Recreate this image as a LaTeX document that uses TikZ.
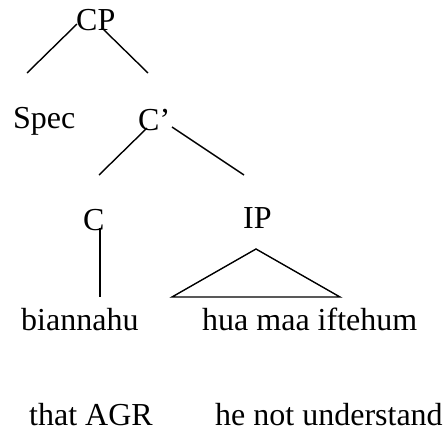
\documentclass[tikz,border=0pt]{standalone}
\usepackage{fontspec}
\setmainfont{Liberation Serif}
\usetikzlibrary{calc}
\begin{document}
\begin{tikzpicture}[x=1pt,y=-1pt,
  lbl/.style={anchor=base west,inner sep=0pt,font=\fontsize{32}{38}\selectfont},
  branch/.style={line width=1.4pt,line cap=butt}]
\useasboundingbox (0,0) rectangle (444,437);
% tree labels
\node[lbl] (CP)   at (76,30)   {CP};
\node[lbl] (Spec) at (13,128)  {Spec};
\node[lbl] (Cbar) at (138,130) {C’};
\node[lbl] (C)    at (83,230)  {C};
\node[lbl] (IP)   at (243,228) {IP};
\node[lbl] (bia)  at (21,330)  {biannahu};
\node[lbl] (hua)  at (202,330) {hua maa iftehum};
% gloss line
\node[lbl] (gl1)  at (29,425)  {that AGR};
\node[lbl] (gl2)  at (215,425) {he not understand};
% branches
\draw[branch] ($(CP.base west)+(1,-6)$) -- ($(Spec.base west)+(14,-55)$);
\draw[branch] ($(CP.base west)+(26,-2)$) -- ($(Cbar.base west)+(10,-57)$);
\draw[branch] ($(Cbar.base west)+(9,-2)$) -- ($(C.base west)+(16,-55)$);
\draw[branch] ($(Cbar.base west)+(34,-3)$) -- ($(IP.base west)+(1,-53)$);
\draw[branch] ($(C.base west)+(17,-2)$) -- ($(bia.base west)+(79,-33)$);
% IP triangle
\draw[branch,line join=miter] ($(IP.base west)+(13,21)$) -- ($(hua.base west)+(-30,-33)$)
  -- ($(hua.base west)+(138,-33)$) -- cycle;
\end{tikzpicture}
\end{document}
